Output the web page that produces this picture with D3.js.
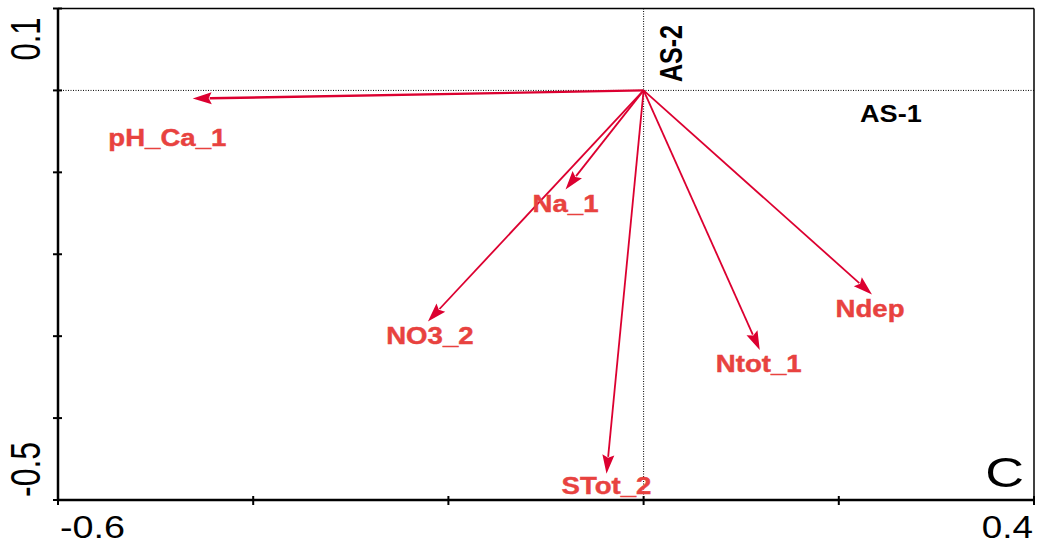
<!DOCTYPE html>
<html>
<head>
<meta charset="utf-8">
<script src="https://cdn.jsdelivr.net/npm/d3@7"></script>
<style>
  body { margin: 0; background: #fff; }
  svg { display: block; font-family: "Liberation Sans", Arial, sans-serif; }
</style>
</head>
<body>
<div id="chart"></div>
<script>
// arrows (environmental variables) in axis units
var names  = ["pH_Ca_1", "Na_1", "NO3_2", "STot_2", "Ntot_1", "Ndep"];
var axis1  = [-0.462, -0.080, -0.221, -0.038, 0.119, 0.234];
var axis2  = [-0.010, -0.121, -0.282, -0.468, -0.317, -0.249];
// where CANOCO put each label (axis units, centre / baseline)
var labelX = [-0.488, -0.080, -0.219, -0.038, 0.118, 0.232];
var labelY = [-0.068, -0.149, -0.310, -0.493, -0.344, -0.276];

var xTicks = [-0.6, -0.4, -0.2, 0, 0.2, 0.4];
var yTicks = [0.1, 0, -0.1, -0.2, -0.3, -0.4, -0.5];

var W = 1037, H = 546;
var arrowCol = "#dc0030", labelCol = "#e8423f";

var svg = d3.select("#chart").append("svg")
  .attr("width", W).attr("height", H);

var x = d3.scaleLinear().domain([-0.6, 0.4]).range([58, 1034]);
var y = d3.scaleLinear().domain([-0.5, 0.1]).range([500, 8.5]);

// text helper, the original export is stretched sideways
function txt(s, px, py, opt) {
  var t = svg.append("text")
    .attr("transform", "translate(" + px + "," + py + ") scale(" + (opt.sx || 1) + ",1)" + (opt.rot ? " rotate(" + opt.rot + ")" : ""))
    .attr("text-anchor", opt.anchor || "start")
    .attr("font-size", opt.size)
    .attr("font-weight", opt.bold ? "bold" : "normal")
    .attr("fill", opt.fill || "#000")
    .text(s);
  if (opt.stroke) t.attr("stroke", opt.fill).attr("stroke-width", opt.stroke);
  return t;
}

// zero lines
svg.append("line")
  .attr("x1", x(-0.6)).attr("x2", x(0.4)).attr("y1", y(0)).attr("y2", y(0))
  .attr("stroke", "#000").attr("stroke-width", 1).attr("stroke-dasharray", "1,1.5");
svg.append("line")
  .attr("x1", x(0)).attr("x2", x(0)).attr("y1", y(0.1)).attr("y2", y(-0.5))
  .attr("stroke", "#000").attr("stroke-width", 1).attr("stroke-dasharray", "1,1.5");

// frame
svg.append("line").attr("x1", x(-0.6)).attr("x2", x(0.4)).attr("y1", y(0.1)).attr("y2", y(0.1))
  .attr("stroke", "#000").attr("stroke-width", 1.5);
svg.append("line").attr("x1", x(0.4)).attr("x2", x(0.4)).attr("y1", y(0.1)).attr("y2", y(-0.5))
  .attr("stroke", "#000").attr("stroke-width", 1.5);
svg.append("line").attr("x1", x(-0.6)).attr("x2", x(-0.6)).attr("y1", y(0.1)).attr("y2", y(-0.5))
  .attr("stroke", "#000").attr("stroke-width", 2.5);
svg.append("line").attr("x1", x(-0.6) - 1).attr("x2", x(0.4) + 1).attr("y1", y(-0.5)).attr("y2", y(-0.5))
  .attr("stroke", "#000").attr("stroke-width", 2.5);

// ticks crossing the axes
svg.selectAll(".xt").data(xTicks).enter().append("line")
  .attr("x1", function(d) { return x(d); }).attr("x2", function(d) { return x(d); })
  .attr("y1", y(-0.5) - 4).attr("y2", y(-0.5) + 5)
  .attr("stroke", "#000").attr("stroke-width", 2);
svg.selectAll(".yt").data(yTicks).enter().append("line")
  .attr("y1", function(d) { return y(d); }).attr("y2", function(d) { return y(d); })
  .attr("x1", x(-0.6) - 5).attr("x2", x(-0.6) + 4)
  .attr("stroke", "#000").attr("stroke-width", 2);

// end labels only
txt("-0.6", x(-0.6) + 2, 538, {size: 32, sx: 1.18});
txt("0.4", x(0.4) - 1, 538, {size: 32, sx: 1.15, anchor: "end"});
txt("0.1", 40, y(0.1) + 9, {size: 31, sx: 1.35, rot: -90, anchor: "end"});
txt("-0.5", 40, y(-0.5) - 3, {size: 32, sx: 1.35, rot: -90, anchor: "start"});

// axis names
txt("AS-1", 860, 122, {size: 24, sx: 1.13, bold: true});
txt("AS-2", 682, 82, {size: 25, sx: 1.28, bold: true, rot: -90});

// arrows
var head = 19, half = 6;
names.forEach(function(n, i) {
  var x0 = x(0), y0 = y(0), x1 = x(axis1[i]), y1 = y(axis2[i]);
  var dx = x1 - x0, dy = y1 - y0, len = Math.sqrt(dx * dx + dy * dy);
  var ux = dx / len, uy = dy / len;
  var bx = x1 - ux * head, by = y1 - uy * head;
  svg.append("line")
    .attr("x1", x0).attr("y1", y0).attr("x2", bx + ux * 2).attr("y2", by + uy * 2)
    .attr("stroke", arrowCol).attr("stroke-width", i == 0 ? 2.4 : 1.8);
  svg.append("polygon")
    .attr("points", [[x1, y1], [bx - uy * half, by + ux * half], [bx + ux * 3, by + uy * 3], [bx + uy * half, by - ux * half]].map(function(p) { return p.join(","); }).join(" "))
    .attr("fill", arrowCol);
});

// arrow labels
names.forEach(function(n, i) {
  txt(n, x(labelX[i]), y(labelY[i]), {size: 23, sx: 1.2, bold: true, fill: labelCol, anchor: "middle", stroke: 0.4});
});

// panel letter
txt("C", 1024, 487, {size: 43, sx: 1.25, anchor: "end"});
</script>
</body>
</html>
